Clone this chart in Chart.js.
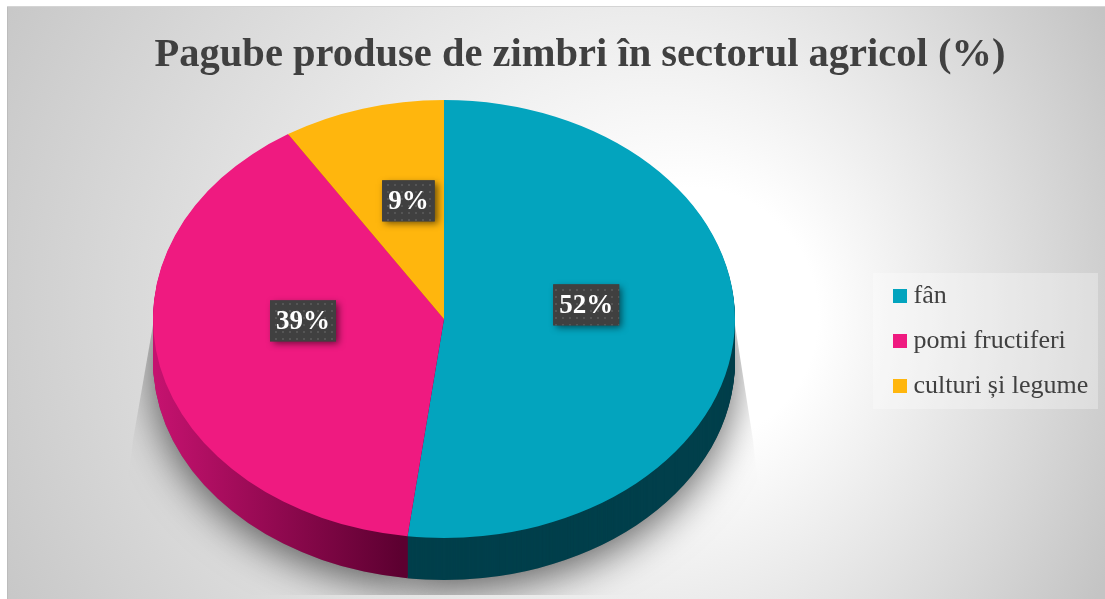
<!DOCTYPE html>
<html>
<head>
<meta charset="utf-8">
<title>Pagube produse de zimbri</title>
<script src="https://cdn.jsdelivr.net/npm/chart.js@4"></script>
<style>
    body {
        margin: 0;
        background: #fff;
    }
    #panel {
        position: absolute;
        left: 0;
        top: 0;
        width: 1105px;
        height: 599px;
    }
</style>
</head>
<body>
<div id="panel"><canvas id="pie" width="1105" height="599"></canvas></div>
<script>
const categories = ["fân", "pomi fructiferi", "culturi și legume"];
const damage = [52, 39, 9];
const colors = ["#03a4be", "#ef1a80", "#ffb60d"];

const chartTitle = "Pagube produse de zimbri în sectorul agricol (%)";
const serif = "'Liberation Serif', serif";

// the pie is flattened to look like it is lying down
const radiusX = 291;
const radiusY = 219;
const depth = 42;

function squash(ctx, chart, dy) {
    const arc = chart.getDatasetMeta(0).data[0];
    ctx.translate(arc.x, arc.y + dy);
    ctx.scale(1, radiusY / radiusX);
    ctx.translate(-arc.x, -arc.y);
}

function drawArc(ctx, arc, fill) {
    const options = arc.options;
    arc.options = { ...options, backgroundColor: fill };
    arc.draw(ctx);
    arc.options = options;
}

function drawLabels(chart) {
    const ctx = chart.ctx;
    const arcs = chart.getDatasetMeta(0).data;
    const k = radiusY / radiusX;
    const nudgeX = [-3, 1, 5];
    const lift = [21, 22, 13];

    const dots = document.createElement("canvas");
    dots.width = 7;
    dots.height = 7;
    const dctx = dots.getContext("2d");
    dctx.fillStyle = "#404040";
    dctx.fillRect(0, 0, 7, 7);
    dctx.fillStyle = "#555";
    dctx.fillRect(2, 2, 2, 2);

    arcs.forEach((arc, i) => {
        const p = arc.tooltipPosition();
        const x = p.x + nudgeX[i];
        const y = arc.y + (p.y - arc.y) * k - lift[i];
        const text = damage[i] + "%";
        ctx.save();
        ctx.font = "bold 27px " + serif;
        const w = ctx.measureText(text).width + 12;
        const h = 41;
        ctx.shadowColor = "rgba(0,0,0,0.55)";
        ctx.shadowBlur = 7;
        ctx.shadowOffsetX = 3;
        ctx.shadowOffsetY = 3;
        ctx.fillStyle = "#404040";
        ctx.fillRect(x - w / 2, y - h / 2, w, h);
        ctx.shadowColor = "transparent";
        ctx.fillStyle = ctx.createPattern(dots, "repeat");
        ctx.fillRect(x - w / 2, y - h / 2, w, h);
        ctx.fillStyle = "#fff";
        ctx.textAlign = "center";
        ctx.textBaseline = "middle";
        ctx.fillText(text, x, y + 1);
        ctx.restore();
    });
}

const panel = {
    id: "panel",
    afterLayout(chart) {
        // title sits right of the canvas centre, legend has its own spot
        chart.titleBlock.left = 55;
        chart.titleBlock.right = 1105;
        chart.legend.left = 880.5;
        chart.legend.right = 1105;
        chart.legend.top = 264;
        chart.legend.bottom = 590;
    },
    beforeDraw(chart) {
        const ctx = chart.ctx;
        ctx.save();
        const bg = ctx.createRadialGradient(730, 320, 0, 530, 300, 640);
        bg.addColorStop(0, "#ffffff");
        bg.addColorStop(0.2, "#ffffff");
        bg.addColorStop(1, "#c4c4c4");
        ctx.fillStyle = bg;
        ctx.fillRect(7, 7, 1098, 592);
        ctx.fillStyle = "#d4d4d4";
        ctx.fillRect(7, 6, 1098, 1);
        ctx.fillStyle = "#bcbcbc";
        ctx.fillRect(7, 7, 1, 592);
        ctx.fillStyle = "rgba(255,255,255,0.3)";
        ctx.fillRect(873, 273, 225, 136);
        ctx.restore();
    },
};

const pie3d = {
    id: "pie3d",
    beforeDatasetsDraw(chart) {
        const ctx = chart.ctx;
        const arcs = chart.getDatasetMeta(0).data;

        // soft shadow under the pie, only below the rim
        ctx.save();
        ctx.beginPath();
        ctx.moveTo(153, 325);
        ctx.lineTo(735, 325);
        ctx.lineTo(753, 440);
        ctx.lineTo(770, 595);
        ctx.lineTo(115, 595);
        ctx.lineTo(133, 440);
        ctx.closePath();
        ctx.clip();
        ctx.shadowColor = "rgba(0,0,0,0.6)";
        ctx.shadowBlur = 40;
        ctx.shadowOffsetY = 10;
        squash(ctx, chart, depth);
        arcs.forEach((arc) => drawArc(ctx, arc, "#777"));
        ctx.restore();

        const pinkSide = ctx.createLinearGradient(155, 0, 402, 0);
        pinkSide.addColorStop(0, "#c5126f");
        pinkSide.addColorStop(1, "#5c0030");
        const sides = ["#013f4b", pinkSide, "#a87600"];

        for (let d = depth; d > 0; d--) {
            ctx.save();
            squash(ctx, chart, d);
            arcs.forEach((arc, i) => drawArc(ctx, arc, sides[i]));
            ctx.restore();
        }

        ctx.save();
        squash(ctx, chart, 0);
        arcs.forEach((arc) => arc.draw(ctx));
        ctx.restore();

        drawLabels(chart);

        // the flattened pie is done, skip the normal round one
        return false;
    },
};

new Chart(document.getElementById("pie"), {
    type: "pie",
    data: {
        labels: categories,
        datasets: [
            {
                data: damage,
                backgroundColor: colors,
                borderWidth: 0,
                radius: radiusX,
            },
        ],
    },
    options: {
        responsive: false,
        animation: false,
        layout: {
            padding: { left: 0, right: 0, top: 0, bottom: 41 },
        },
        plugins: {
            title: {
                display: true,
                text: chartTitle,
                color: "#404040",
                font: { family: serif, size: 40.5, weight: "bold" },
                padding: { top: 31, bottom: 0.4 },
            },
            legend: {
                position: "right",
                align: "start",
                maxWidth: 217,
                labels: {
                    color: "#404040",
                    font: { family: serif, size: 26 },
                    boxWidth: 1,
                    boxHeight: 1,
                    padding: 19,
                    generateLabels: () =>
                        categories.map((name, i) => ({
                            text: name,
                            fontColor: "#404040",
                            fillStyle: colors[i],
                            strokeStyle: colors[i],
                            lineWidth: 13,
                            index: i,
                        })),
                },
            },
            tooltip: { enabled: false },
        },
    },
    plugins: [panel, pie3d],
});
</script>
</body>
</html>
